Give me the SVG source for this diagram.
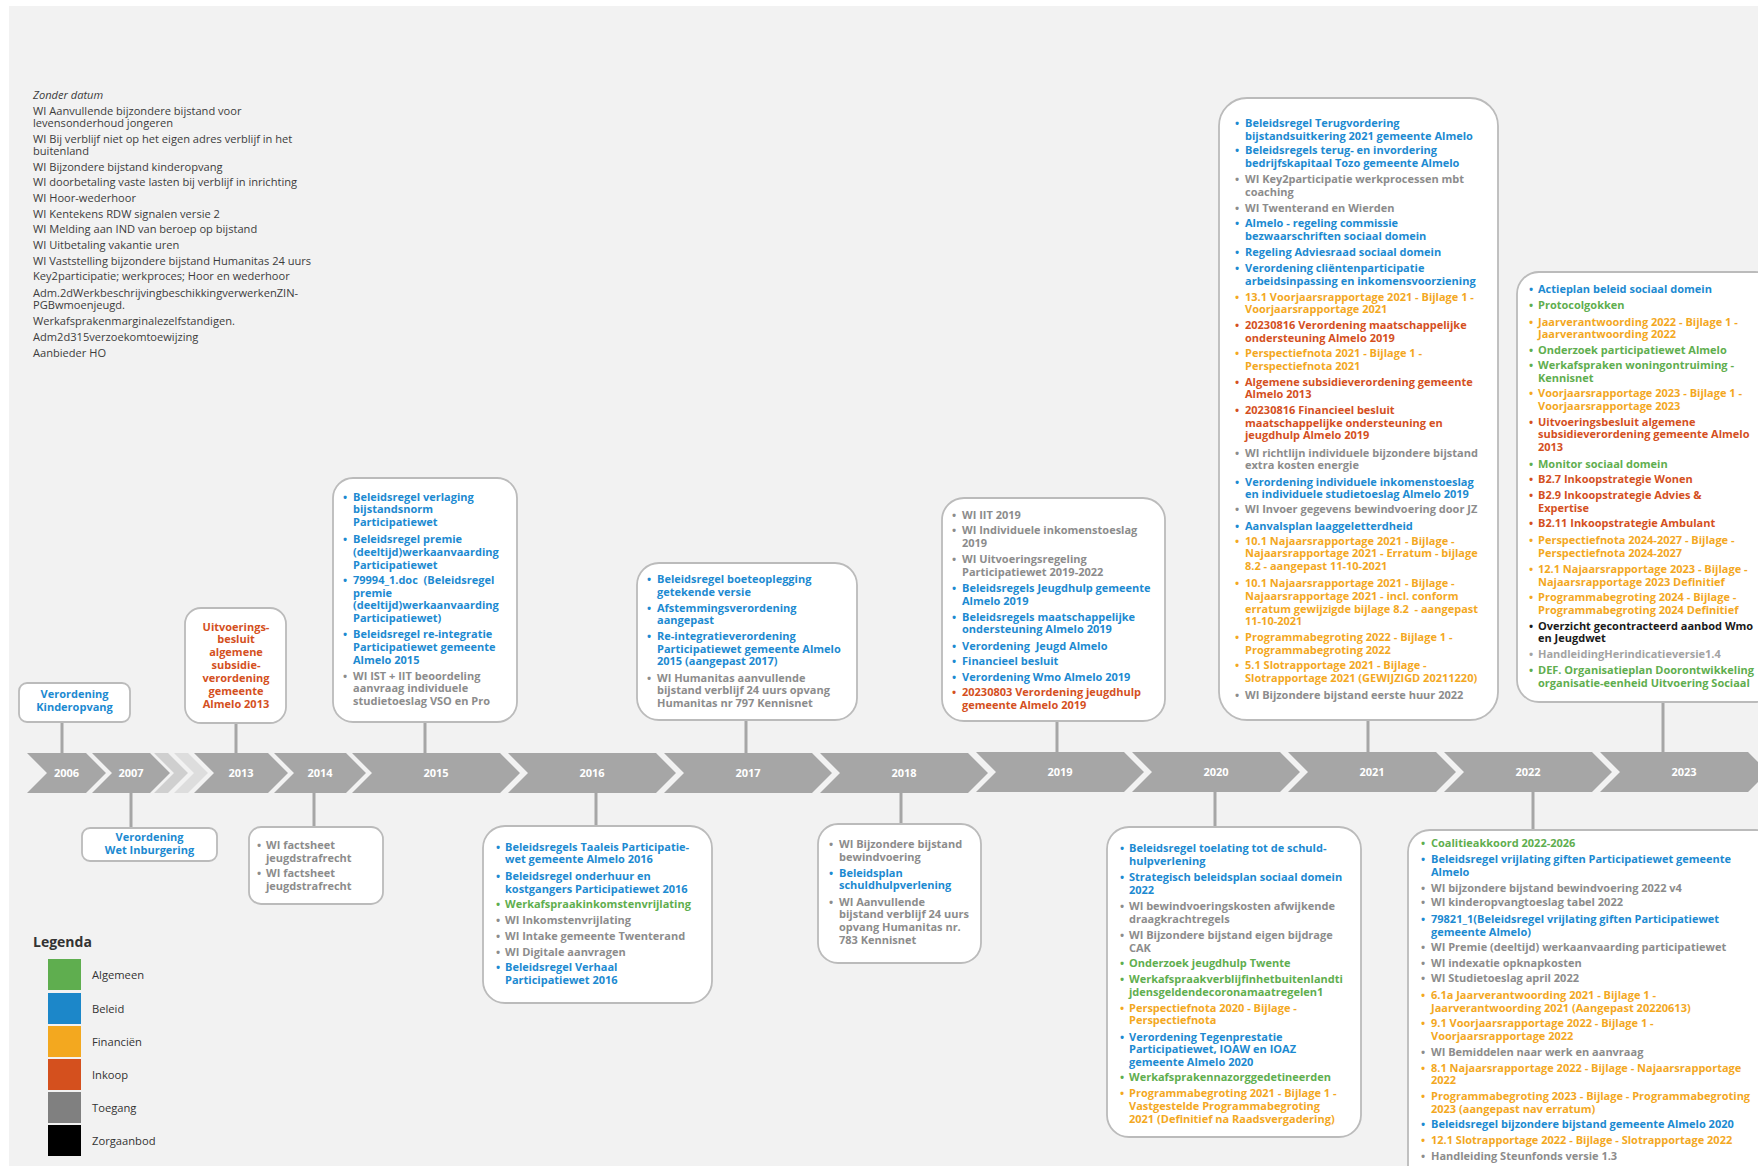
<svg xmlns="http://www.w3.org/2000/svg" width="1758" height="1166" viewBox="0 0 1758 1166">
<style>
text{font-family:"Open Sans","Liberation Sans",sans-serif;}
.t{font-size:11px;font-weight:700;}
.bl{fill:#1c8ad1}
.gr{fill:#5fae4f}
.or{fill:#f3a81f}
.rd{fill:#d4501e}
.gy{fill:#8c8c8c}
.bk{fill:#1a1a1a}
.lg{fill:#a3a3a3}
.c{text-anchor:middle}
.box{fill:#fff;stroke:#bbbbbb;stroke-width:1.8}
.con{stroke:#a6a6a6;stroke-width:3}
.chev{fill:#a6a6a6}
.fade1{fill:#cfcfcf}
.fade2{fill:#dddddd}
.yr{fill:#fff;font-size:11px;font-weight:700;text-anchor:middle}
.nd{font-size:11.1px;fill:#3c3c3c}
.leg{font-size:11.2px;fill:#333}
</style>
<rect x="0" y="0" width="1758" height="1166" fill="#fff"/>
<rect x="9" y="6" width="1749" height="1160" fill="#f2f2f2"/>

<g id="zonder-datum">
<text class="nd" x="33" y="98.5" font-style="italic">Zonder datum</text>
<text class="nd" x="33" y="114.5">WI Aanvullende bijzondere bijstand voor</text>
<text class="nd" x="33" y="126.8">levensonderhoud jongeren</text>
<text class="nd" x="33" y="143">WI Bij verblijf niet op het eigen adres verblijf in het</text>
<text class="nd" x="33" y="154.9">buitenland</text>
<text class="nd" x="33" y="170.6">WI Bijzondere bijstand kinderopvang</text>
<text class="nd" x="33" y="186.3">WI doorbetaling vaste lasten bij verblijf in inrichting</text>
<text class="nd" x="33" y="202">WI Hoor-wederhoor</text>
<text class="nd" x="33" y="217.7">WI Kentekens RDW signalen versie 2</text>
<text class="nd" x="33" y="233.4">WI Melding aan IND van beroep op bijstand</text>
<text class="nd" x="33" y="249">WI Uitbetaling vakantie uren</text>
<text class="nd" x="33" y="264.7">WI Vaststelling bijzondere bijstand Humanitas 24 uurs</text>
<text class="nd" x="33" y="280.4">Key2participatie; werkproces; Hoor en wederhoor</text>
<text class="nd" x="33" y="296.5">Adm.2dWerkbeschrijvingbeschikkingverwerkenZIN-</text>
<text class="nd" x="33" y="308.8">PGBwmoenjeugd.</text>
<text class="nd" x="33" y="325">Werkafsprakenmarginalezelfstandigen.</text>
<text class="nd" x="33" y="340.8">Adm2d315verzoekomtoewijzing</text>
<text class="nd" x="33" y="356.5">Aanbieder HO</text>
</g>

<g id="connectors">
<line class="con" x1="62" y1="722" x2="62" y2="755"/>
<line class="con" x1="236" y1="723" x2="236" y2="755"/>
<line class="con" x1="425" y1="722" x2="425" y2="755"/>
<line class="con" x1="746" y1="720" x2="746" y2="755"/>
<line class="con" x1="1057" y1="721" x2="1057" y2="754"/>
<line class="con" x1="1368" y1="720" x2="1368" y2="754"/>
<line class="con" x1="1663" y1="702" x2="1663" y2="754"/>
<line class="con" x1="131" y1="791" x2="131" y2="828"/>
<line class="con" x1="314" y1="791" x2="314" y2="827"/>
<line class="con" x1="596" y1="791" x2="596" y2="826"/>
<line class="con" x1="901" y1="791" x2="901" y2="824"/>
<line class="con" x1="1215" y1="791" x2="1215" y2="827"/>
<line class="con" x1="1533" y1="791" x2="1533" y2="830"/>
</g>

<g id="timeline">
<g id="y2006"><path class="chev" d="M27,753 H86 L106,773 L86,793 H27 L47,773 Z"/><text class="yr" x="66.5" y="777">2006</text></g>
<g id="y2007"><path class="chev" d="M92,753 H150 L170,773 L150,793 H92 L112,773 Z"/><text class="yr" x="131" y="777">2007</text></g>
<g id="gap1"><path class="fade1" d="M154,753 H168 L188,773 L168,793 H154 L174,773 Z"/></g>
<g id="gap2"><path class="fade2" d="M174,753 H188 L208,773 L188,793 H174 L194,773 Z"/></g>
<g id="y2013"><path class="chev" d="M194,753 H268 L288,773 L268,793 H194 L214,773 Z"/><text class="yr" x="241" y="777">2013</text></g>
<g id="y2014"><path class="chev" d="M274,753 H346 L366,773 L346,793 H274 L294,773 Z"/><text class="yr" x="320" y="777">2014</text></g>
<g id="y2015"><path class="chev" d="M352,753 H500 L520,773 L500,793 H352 L372,773 Z"/><text class="yr" x="436" y="777">2015</text></g>
<g id="y2016"><path class="chev" d="M508,753 H656 L676,773 L656,793 H508 L528,773 Z"/><text class="yr" x="592" y="777">2016</text></g>
<g id="y2017"><path class="chev" d="M664,753 H812 L832,773 L812,793 H664 L684,773 Z"/><text class="yr" x="748" y="777">2017</text></g>
<g id="y2018"><path class="chev" d="M820,753 H968 L988,773 L968,793 H820 L840,773 Z"/><text class="yr" x="904" y="777">2018</text></g>
<g id="y2019"><path class="chev" d="M976,752 H1124 L1144,772 L1124,792 H976 L996,772 Z"/><text class="yr" x="1060" y="776">2019</text></g>
<g id="y2020"><path class="chev" d="M1132,752 H1280 L1300,772 L1280,792 H1132 L1152,772 Z"/><text class="yr" x="1216" y="776">2020</text></g>
<g id="y2021"><path class="chev" d="M1288,752 H1436 L1456,772 L1436,792 H1288 L1308,772 Z"/><text class="yr" x="1372" y="776">2021</text></g>
<g id="y2022"><path class="chev" d="M1444,752 H1592 L1612,772 L1592,792 H1444 L1464,772 Z"/><text class="yr" x="1528" y="776">2022</text></g>
<g id="y2023"><path class="chev" d="M1600,752 H1748 L1768,772 L1748,792 H1600 L1620,772 Z"/><text class="yr" x="1684" y="776">2023</text></g>
</g>

<g id="n2006">
<rect class="box" x="19" y="683" width="111" height="39" rx="8"/>
<text class="t bl c" x="74.5" y="698.3">Verordening</text>
<text class="t bl c" x="74.5" y="711.3">Kinderopvang</text>
</g>

<g id="n2007">
<rect class="box" x="82" y="828" width="135" height="33" rx="8"/>
<text class="t bl c" x="149.5" y="841.3">Verordening</text>
<text class="t bl c" x="149.5" y="854">Wet Inburgering</text>
</g>

<g id="n2013">
<rect class="box" x="185" y="608" width="101" height="115" rx="16"/>
<text class="t rd c" y="630.5"><tspan x="236">Uitvoerings-</tspan><tspan x="236" dy="12.9">besluit</tspan><tspan x="236" dy="12.9">algemene</tspan><tspan x="236" dy="12.9">subsidie-</tspan><tspan x="236" dy="12.9">verordening</tspan><tspan x="236" dy="12.9">gemeente</tspan><tspan x="236" dy="12.9">Almelo 2013</tspan></text>
</g>

<g id="n2014">
<rect class="box" x="249" y="827" width="134" height="77" rx="12"/>
<text class="t gy" y="849"><tspan x="257">•</tspan><tspan x="266">WI factsheet</tspan><tspan x="266" dy="12.7">jeugdstrafrecht</tspan></text>
<text class="t gy" y="877.3"><tspan x="257">•</tspan><tspan x="266">WI factsheet</tspan><tspan x="266" dy="12.7">jeugdstrafrecht</tspan></text>
</g>

<g id="n2015">
<rect class="box" x="333" y="478" width="184" height="244" rx="20"/>
<text class="t bl" y="500.7"><tspan x="343">•</tspan><tspan x="353">Beleidsregel verlaging</tspan><tspan x="353" dy="12.7">bijstandsnorm</tspan><tspan x="353" dy="12.7">Participatiewet</tspan></text>
<text class="t bl" y="543.3"><tspan x="343">•</tspan><tspan x="353">Beleidsregel premie</tspan><tspan x="353" dy="12.7">(deeltijd)werkaanvaarding</tspan><tspan x="353" dy="12.7">Participatiewet</tspan></text>
<text class="t bl" y="584"><tspan x="343">•</tspan><tspan x="353">79994_1.doc &#160;(Beleidsregel</tspan><tspan x="353" dy="12.7">premie</tspan><tspan x="353" dy="12.7">(deeltijd)werkaanvaarding</tspan><tspan x="353" dy="12.7">Participatiewet)</tspan></text>
<text class="t bl" y="638.3"><tspan x="343">•</tspan><tspan x="353">Beleidsregel re-integratie</tspan><tspan x="353" dy="12.7">Participatiewet gemeente</tspan><tspan x="353" dy="12.7">Almelo 2015</tspan></text>
<text class="t gy" y="679.7"><tspan x="343">•</tspan><tspan x="353">WI IST + IIT beoordeling</tspan><tspan x="353" dy="12.7">aanvraag individuele</tspan><tspan x="353" dy="12.7">studietoeslag VSO en Pro</tspan></text>
</g>

<g id="n2016">
<rect class="box" x="483" y="826" width="229" height="177" rx="22"/>
<text class="t bl" y="850.7"><tspan x="496">•</tspan><tspan x="505">Beleidsregels Taaleis Participatie-</tspan><tspan x="505" dy="12.7">wet gemeente Almelo 2016</tspan></text>
<text class="t bl" y="880"><tspan x="496">•</tspan><tspan x="505">Beleidsregel onderhuur en</tspan><tspan x="505" dy="12.7">kostgangers Participatiewet 2016</tspan></text>
<text class="t gr" y="908.3"><tspan x="496">•</tspan><tspan x="505">Werkafspraakinkomstenvrijlating</tspan></text>
<text class="t gy" y="924"><tspan x="496">•</tspan><tspan x="505">WI Inkomstenvrijlating</tspan></text>
<text class="t gy" y="939.7"><tspan x="496">•</tspan><tspan x="505">WI Intake gemeente Twenterand</tspan></text>
<text class="t gy" y="955.7"><tspan x="496">•</tspan><tspan x="505">WI Digitale aanvragen</tspan></text>
<text class="t bl" y="971.3"><tspan x="496">•</tspan><tspan x="505">Beleidsregel Verhaal</tspan><tspan x="505" dy="12.7">Participatiewet 2016</tspan></text>
</g>

<g id="n2017">
<rect class="box" x="637" y="563" width="220" height="157" rx="22"/>
<text class="t bl" y="583"><tspan x="647">•</tspan><tspan x="657">Beleidsregel boeteoplegging</tspan><tspan x="657" dy="12.7">getekende versie</tspan></text>
<text class="t bl" y="611.7"><tspan x="647">•</tspan><tspan x="657">Afstemmingsverordening</tspan><tspan x="657" dy="12.7">aangepast</tspan></text>
<text class="t bl" y="640"><tspan x="647">•</tspan><tspan x="657">Re-integratieverordening</tspan><tspan x="657" dy="12.7">Participatiewet gemeente Almelo</tspan><tspan x="657" dy="12.7">2015 (aangepast 2017)</tspan></text>
<text class="t gy" y="681.7"><tspan x="647">•</tspan><tspan x="657">WI Humanitas aanvullende</tspan><tspan x="657" dy="12.7">bijstand verblijf 24 uurs opvang</tspan><tspan x="657" dy="12.7">Humanitas nr 797 Kennisnet</tspan></text>
</g>

<g id="n2018">
<rect class="box" x="818" y="824" width="163" height="139" rx="20"/>
<text class="t gy" y="848"><tspan x="829">•</tspan><tspan x="839">WI Bijzondere bijstand</tspan><tspan x="839" dy="12.7">bewindvoering</tspan></text>
<text class="t bl" y="876.7"><tspan x="829">•</tspan><tspan x="839">Beleidsplan</tspan><tspan x="839" dy="12.7">schuldhulpverlening</tspan></text>
<text class="t gy" y="905.7"><tspan x="829">•</tspan><tspan x="839">WI Aanvullende</tspan><tspan x="839" dy="12.7">bijstand verblijf 24 uurs</tspan><tspan x="839" dy="12.7">opvang Humanitas nr.</tspan><tspan x="839" dy="12.7">783 Kennisnet</tspan></text>
</g>

<g id="n2019">
<rect class="box" x="942" y="498" width="223" height="223" rx="22"/>
<text class="t gy" y="519"><tspan x="952">•</tspan><tspan x="962">WI IIT 2019</tspan></text>
<text class="t gy" y="534"><tspan x="952">•</tspan><tspan x="962">WI Individuele inkomenstoeslag</tspan><tspan x="962" dy="12.7">2019</tspan></text>
<text class="t gy" y="563"><tspan x="952">•</tspan><tspan x="962">WI Uitvoeringsregeling</tspan><tspan x="962" dy="12.7">Participatiewet 2019-2022</tspan></text>
<text class="t bl" y="592.3"><tspan x="952">•</tspan><tspan x="962">Beleidsregels Jeugdhulp gemeente</tspan><tspan x="962" dy="12.7">Almelo 2019</tspan></text>
<text class="t bl" y="620.7"><tspan x="952">•</tspan><tspan x="962">Beleidsregels maatschappelijke</tspan><tspan x="962" dy="12.7">ondersteuning Almelo 2019</tspan></text>
<text class="t bl" y="649.7"><tspan x="952">•</tspan><tspan x="962">Verordening &#160;Jeugd Almelo</tspan></text>
<text class="t bl" y="664.7"><tspan x="952">•</tspan><tspan x="962">Financieel besluit</tspan></text>
<text class="t bl" y="680.7"><tspan x="952">•</tspan><tspan x="962">Verordening Wmo Almelo 2019</tspan></text>
<text class="t rd" y="696.3"><tspan x="952">•</tspan><tspan x="962">20230803 Verordening jeugdhulp</tspan><tspan x="962" dy="12.7">gemeente Almelo 2019</tspan></text>
</g>

<g id="n2020">
<rect class="box" x="1107" y="827" width="254" height="310" rx="22"/>
<text class="t bl" y="852.3"><tspan x="1120">•</tspan><tspan x="1129">Beleidsregel toelating tot de schuld-</tspan><tspan x="1129" dy="12.7">hulpverlening</tspan></text>
<text class="t bl" y="881.3"><tspan x="1120">•</tspan><tspan x="1129">Strategisch beleidsplan sociaal domein</tspan><tspan x="1129" dy="12.7">2022</tspan></text>
<text class="t gy" y="910"><tspan x="1120">•</tspan><tspan x="1129">WI bewindvoeringskosten afwijkende</tspan><tspan x="1129" dy="12.7">draagkrachtregels</tspan></text>
<text class="t gy" y="939"><tspan x="1120">•</tspan><tspan x="1129">WI Bijzondere bijstand eigen bijdrage</tspan><tspan x="1129" dy="12.7">CAK</tspan></text>
<text class="t gr" y="967.3"><tspan x="1120">•</tspan><tspan x="1129">Onderzoek jeugdhulp Twente</tspan></text>
<text class="t gr" y="983.3"><tspan x="1120">•</tspan><tspan x="1129">Werkafspraakverblijfinhetbuitenlandti</tspan><tspan x="1129" dy="12.7">jdensgeldendecoronamaatregelen1</tspan></text>
<text class="t or" y="1011.7"><tspan x="1120">•</tspan><tspan x="1129">Perspectiefnota 2020 - Bijlage -</tspan><tspan x="1129" dy="12.7">Perspectiefnota</tspan></text>
<text class="t bl" y="1040.7"><tspan x="1120">•</tspan><tspan x="1129">Verordening Tegenprestatie</tspan><tspan x="1129" dy="12.7">Participatiewet, IOAW en IOAZ</tspan><tspan x="1129" dy="12.7">gemeente Almelo 2020</tspan></text>
<text class="t gr" y="1081.3"><tspan x="1120">•</tspan><tspan x="1129">Werkafsprakennazorggedetineerden</tspan></text>
<text class="t or" y="1097.3"><tspan x="1120">•</tspan><tspan x="1129">Programmabegroting 2021 - Bijlage 1 -</tspan><tspan x="1129" dy="12.7">Vastgestelde Programmabegroting</tspan><tspan x="1129" dy="12.7">2021 (Definitief na Raadsvergadering)</tspan></text>
</g>

<g id="n2021">
<rect class="box" x="1219" y="98" width="279" height="622" rx="28"/>
<text class="t bl" y="127.3"><tspan x="1235">•</tspan><tspan x="1245">Beleidsregel Terugvordering</tspan><tspan x="1245" dy="12.7">bijstandsuitkering 2021 gemeente Almelo</tspan></text>
<text class="t bl" y="154"><tspan x="1235">•</tspan><tspan x="1245">Beleidsregels terug- en invordering</tspan><tspan x="1245" dy="12.7">bedrijfskapitaal Tozo gemeente Almelo</tspan></text>
<text class="t gy" y="183"><tspan x="1235">•</tspan><tspan x="1245">WI Key2participatie werkprocessen mbt</tspan><tspan x="1245" dy="12.7">coaching</tspan></text>
<text class="t gy" y="211.7"><tspan x="1235">•</tspan><tspan x="1245">WI Twenterand en Wierden</tspan></text>
<text class="t bl" y="227.3"><tspan x="1235">•</tspan><tspan x="1245">Almelo - regeling commissie</tspan><tspan x="1245" dy="12.7">bezwaarschriften sociaal domein</tspan></text>
<text class="t bl" y="255.7"><tspan x="1235">•</tspan><tspan x="1245">Regeling Adviesraad sociaal domein</tspan></text>
<text class="t bl" y="272.3"><tspan x="1235">•</tspan><tspan x="1245">Verordening cliëntenparticipatie</tspan><tspan x="1245" dy="12.7">arbeidsinpassing en inkomensvoorziening</tspan></text>
<text class="t or" y="300.7"><tspan x="1235">•</tspan><tspan x="1245">13.1 Voorjaarsrapportage 2021 - Bijlage 1 -</tspan><tspan x="1245" dy="12.7">Voorjaarsrapportage 2021</tspan></text>
<text class="t rd" y="329"><tspan x="1235">•</tspan><tspan x="1245">20230816 Verordening maatschappelijke</tspan><tspan x="1245" dy="12.7">ondersteuning Almelo 2019</tspan></text>
<text class="t or" y="357.3"><tspan x="1235">•</tspan><tspan x="1245">Perspectiefnota 2021 - Bijlage 1 -</tspan><tspan x="1245" dy="12.7">Perspectiefnota 2021</tspan></text>
<text class="t rd" y="385.7"><tspan x="1235">•</tspan><tspan x="1245">Algemene subsidieverordening gemeente</tspan><tspan x="1245" dy="12.7">Almelo 2013</tspan></text>
<text class="t rd" y="414"><tspan x="1235">•</tspan><tspan x="1245">20230816 Financieel besluit</tspan><tspan x="1245" dy="12.7">maatschappelijke ondersteuning en</tspan><tspan x="1245" dy="12.7">jeugdhulp Almelo 2019</tspan></text>
<text class="t gy" y="456.7"><tspan x="1235">•</tspan><tspan x="1245">WI richtlijn individuele bijzondere bijstand</tspan><tspan x="1245" dy="12.7">extra kosten energie</tspan></text>
<text class="t bl" y="485.7"><tspan x="1235">•</tspan><tspan x="1245">Verordening individuele inkomenstoeslag</tspan><tspan x="1245" dy="12.7">en individuele studietoeslag Almelo 2019</tspan></text>
<text class="t gy" y="513.3"><tspan x="1235">•</tspan><tspan x="1245">WI Invoer gegevens bewindvoering door JZ</tspan></text>
<text class="t bl" y="530"><tspan x="1235">•</tspan><tspan x="1245">Aanvalsplan laaggeletterdheid</tspan></text>
<text class="t or" y="544.7"><tspan x="1235">•</tspan><tspan x="1245">10.1 Najaarsrapportage 2021 - Bijlage -</tspan><tspan x="1245" dy="12.7">Najaarsrapportage 2021 - Erratum - bijlage</tspan><tspan x="1245" dy="12.7">8.2 - aangepast 11-10-2021</tspan></text>
<text class="t or" y="587.3"><tspan x="1235">•</tspan><tspan x="1245">10.1 Najaarsrapportage 2021 - Bijlage -</tspan><tspan x="1245" dy="12.7">Najaarsrapportage 2021 - incl. conform</tspan><tspan x="1245" dy="12.7">erratum gewijzigde bijlage 8.2 &#160;- aangepast</tspan><tspan x="1245" dy="12.7">11-10-2021</tspan></text>
<text class="t or" y="641.3"><tspan x="1235">•</tspan><tspan x="1245">Programmabegroting 2022 - Bijlage 1 -</tspan><tspan x="1245" dy="12.7">Programmabegroting 2022</tspan></text>
<text class="t or" y="669"><tspan x="1235">•</tspan><tspan x="1245">5.1 Slotrapportage 2021 - Bijlage -</tspan><tspan x="1245" dy="12.7">Slotrapportage 2021 (GEWIJZIGD 20211220)</tspan></text>
<text class="t gy" y="699"><tspan x="1235">•</tspan><tspan x="1245">WI Bijzondere bijstand eerste huur 2022</tspan></text>
</g>

<g id="n2022">
<rect class="box" x="1408" y="830" width="370" height="360" rx="22"/>
<text class="t gr" y="847.3"><tspan x="1421">•</tspan><tspan x="1431">Coalitieakkoord 2022-2026</tspan></text>
<text class="t bl" y="863"><tspan x="1421">•</tspan><tspan x="1431">Beleidsregel vrijlating giften Participatiewet gemeente</tspan><tspan x="1431" dy="12.7">Almelo</tspan></text>
<text class="t gy" y="891.7"><tspan x="1421">•</tspan><tspan x="1431">WI bijzondere bijstand bewindvoering 2022 v4</tspan></text>
<text class="t gy" y="906.3"><tspan x="1421">•</tspan><tspan x="1431">WI kinderopvangtoeslag tabel 2022</tspan></text>
<text class="t bl" y="923"><tspan x="1421">•</tspan><tspan x="1431">79821_1(Beleidsregel vrijlating giften Participatiewet</tspan><tspan x="1431" dy="12.7">gemeente Almelo)</tspan></text>
<text class="t gy" y="951.3"><tspan x="1421">•</tspan><tspan x="1431">WI Premie (deeltijd) werkaanvaarding participatiewet</tspan></text>
<text class="t gy" y="967.3"><tspan x="1421">•</tspan><tspan x="1431">WI indexatie opknapkosten</tspan></text>
<text class="t gy" y="982.3"><tspan x="1421">•</tspan><tspan x="1431">WI Studietoeslag april 2022</tspan></text>
<text class="t or" y="999"><tspan x="1421">•</tspan><tspan x="1431">6.1a Jaarverantwoording 2021 - Bijlage 1 -</tspan><tspan x="1431" dy="12.7">Jaarverantwoording 2021 (Aangepast 20220613)</tspan></text>
<text class="t or" y="1027.3"><tspan x="1421">•</tspan><tspan x="1431">9.1 Voorjaarsrapportage 2022 - Bijlage 1 -</tspan><tspan x="1431" dy="12.7">Voorjaarsrapportage 2022</tspan></text>
<text class="t gy" y="1055.7"><tspan x="1421">•</tspan><tspan x="1431">WI Bemiddelen naar werk en aanvraag</tspan></text>
<text class="t or" y="1071.7"><tspan x="1421">•</tspan><tspan x="1431">8.1 Najaarsrapportage 2022 - Bijlage - Najaarsrapportage</tspan><tspan x="1431" dy="12.7">2022</tspan></text>
<text class="t or" y="1100"><tspan x="1421">•</tspan><tspan x="1431">Programmabegroting 2023 - Bijlage - Programmabegroting</tspan><tspan x="1431" dy="12.7">2023 (aangepast nav erratum)</tspan></text>
<text class="t bl" y="1128.3"><tspan x="1421">•</tspan><tspan x="1431">Beleidsregel bijzondere bijstand gemeente Almelo 2020</tspan></text>
<text class="t or" y="1144"><tspan x="1421">•</tspan><tspan x="1431">12.1 Slotrapportage 2022 - Bijlage - Slotrapportage 2022</tspan></text>
<text class="t gy" y="1159.7"><tspan x="1421">•</tspan><tspan x="1431">Handleiding Steunfonds versie 1.3</tspan></text>
</g>

<g id="n2023">
<rect class="box" x="1517" y="272" width="260" height="430" rx="22"/>
<text class="t bl" y="293"><tspan x="1529">•</tspan><tspan x="1538">Actieplan beleid sociaal domein</tspan></text>
<text class="t gr" y="309"><tspan x="1529">•</tspan><tspan x="1538">Protocolgokken</tspan></text>
<text class="t or" y="325.7"><tspan x="1529">•</tspan><tspan x="1538">Jaarverantwoording 2022 - Bijlage 1 -</tspan><tspan x="1538" dy="12.7">Jaarverantwoording 2022</tspan></text>
<text class="t gr" y="354"><tspan x="1529">•</tspan><tspan x="1538">Onderzoek participatiewet Almelo</tspan></text>
<text class="t gr" y="369"><tspan x="1529">•</tspan><tspan x="1538">Werkafspraken woningontruiming -</tspan><tspan x="1538" dy="12.7">Kennisnet</tspan></text>
<text class="t or" y="397.3"><tspan x="1529">•</tspan><tspan x="1538">Voorjaarsrapportage 2023 - Bijlage 1 -</tspan><tspan x="1538" dy="12.7">Voorjaarsrapportage 2023</tspan></text>
<text class="t rd" y="425.7"><tspan x="1529">•</tspan><tspan x="1538">Uitvoeringsbesluit algemene</tspan><tspan x="1538" dy="12.7">subsidieverordening gemeente Almelo</tspan><tspan x="1538" dy="12.7">2013</tspan></text>
<text class="t gr" y="468"><tspan x="1529">•</tspan><tspan x="1538">Monitor sociaal domein</tspan></text>
<text class="t rd" y="483.3"><tspan x="1529">•</tspan><tspan x="1538">B2.7 Inkoopstrategie Wonen</tspan></text>
<text class="t rd" y="499"><tspan x="1529">•</tspan><tspan x="1538">B2.9 Inkoopstrategie Advies &amp;</tspan><tspan x="1538" dy="12.7">Expertise</tspan></text>
<text class="t rd" y="527.3"><tspan x="1529">•</tspan><tspan x="1538">B2.11 Inkoopstrategie Ambulant</tspan></text>
<text class="t or" y="544"><tspan x="1529">•</tspan><tspan x="1538">Perspectiefnota 2024-2027 - Bijlage -</tspan><tspan x="1538" dy="12.7">Perspectiefnota 2024-2027</tspan></text>
<text class="t or" y="573"><tspan x="1529">•</tspan><tspan x="1538">12.1 Najaarsrapportage 2023 - Bijlage -</tspan><tspan x="1538" dy="12.7">Najaarsrapportage 2023 Definitief</tspan></text>
<text class="t or" y="601.3"><tspan x="1529">•</tspan><tspan x="1538">Programmabegroting 2024 - Bijlage -</tspan><tspan x="1538" dy="12.7">Programmabegroting 2024 Definitief</tspan></text>
<text class="t bk" y="629.7"><tspan x="1529">•</tspan><tspan x="1538">Overzicht gecontracteerd aanbod Wmo</tspan><tspan x="1538" dy="12.7">en Jeugdwet</tspan></text>
<text class="t lg" y="658"><tspan x="1529">•</tspan><tspan x="1538">HandleidingHerindicatieversie1.4</tspan></text>
<text class="t gr" y="674"><tspan x="1529">•</tspan><tspan x="1538">DEF. Organisatieplan Doorontwikkeling</tspan><tspan x="1538" dy="12.7">organisatie-eenheid Uitvoering Sociaal</tspan></text>
</g>

<g id="legenda">
<text x="33" y="946.5" font-size="14" font-weight="700" fill="#333">Legenda</text>
<rect x="48" y="959" width="33" height="31" fill="#5fae4f"/>
<rect x="48" y="993" width="33" height="31" fill="#1c87c9"/>
<rect x="48" y="1026" width="33" height="31" fill="#f3a81f"/>
<rect x="48" y="1059" width="33" height="31" fill="#d4501e"/>
<rect x="48" y="1092" width="33" height="31" fill="#808080"/>
<rect x="48" y="1125" width="33" height="31" fill="#000"/>
<text class="leg" x="92" y="979">Algemeen</text>
<text class="leg" x="92" y="1013">Beleid</text>
<text class="leg" x="92" y="1046">Financiën</text>
<text class="leg" x="92" y="1079">Inkoop</text>
<text class="leg" x="92" y="1112">Toegang</text>
<text class="leg" x="92" y="1145">Zorgaanbod</text>
</g>
</svg>
